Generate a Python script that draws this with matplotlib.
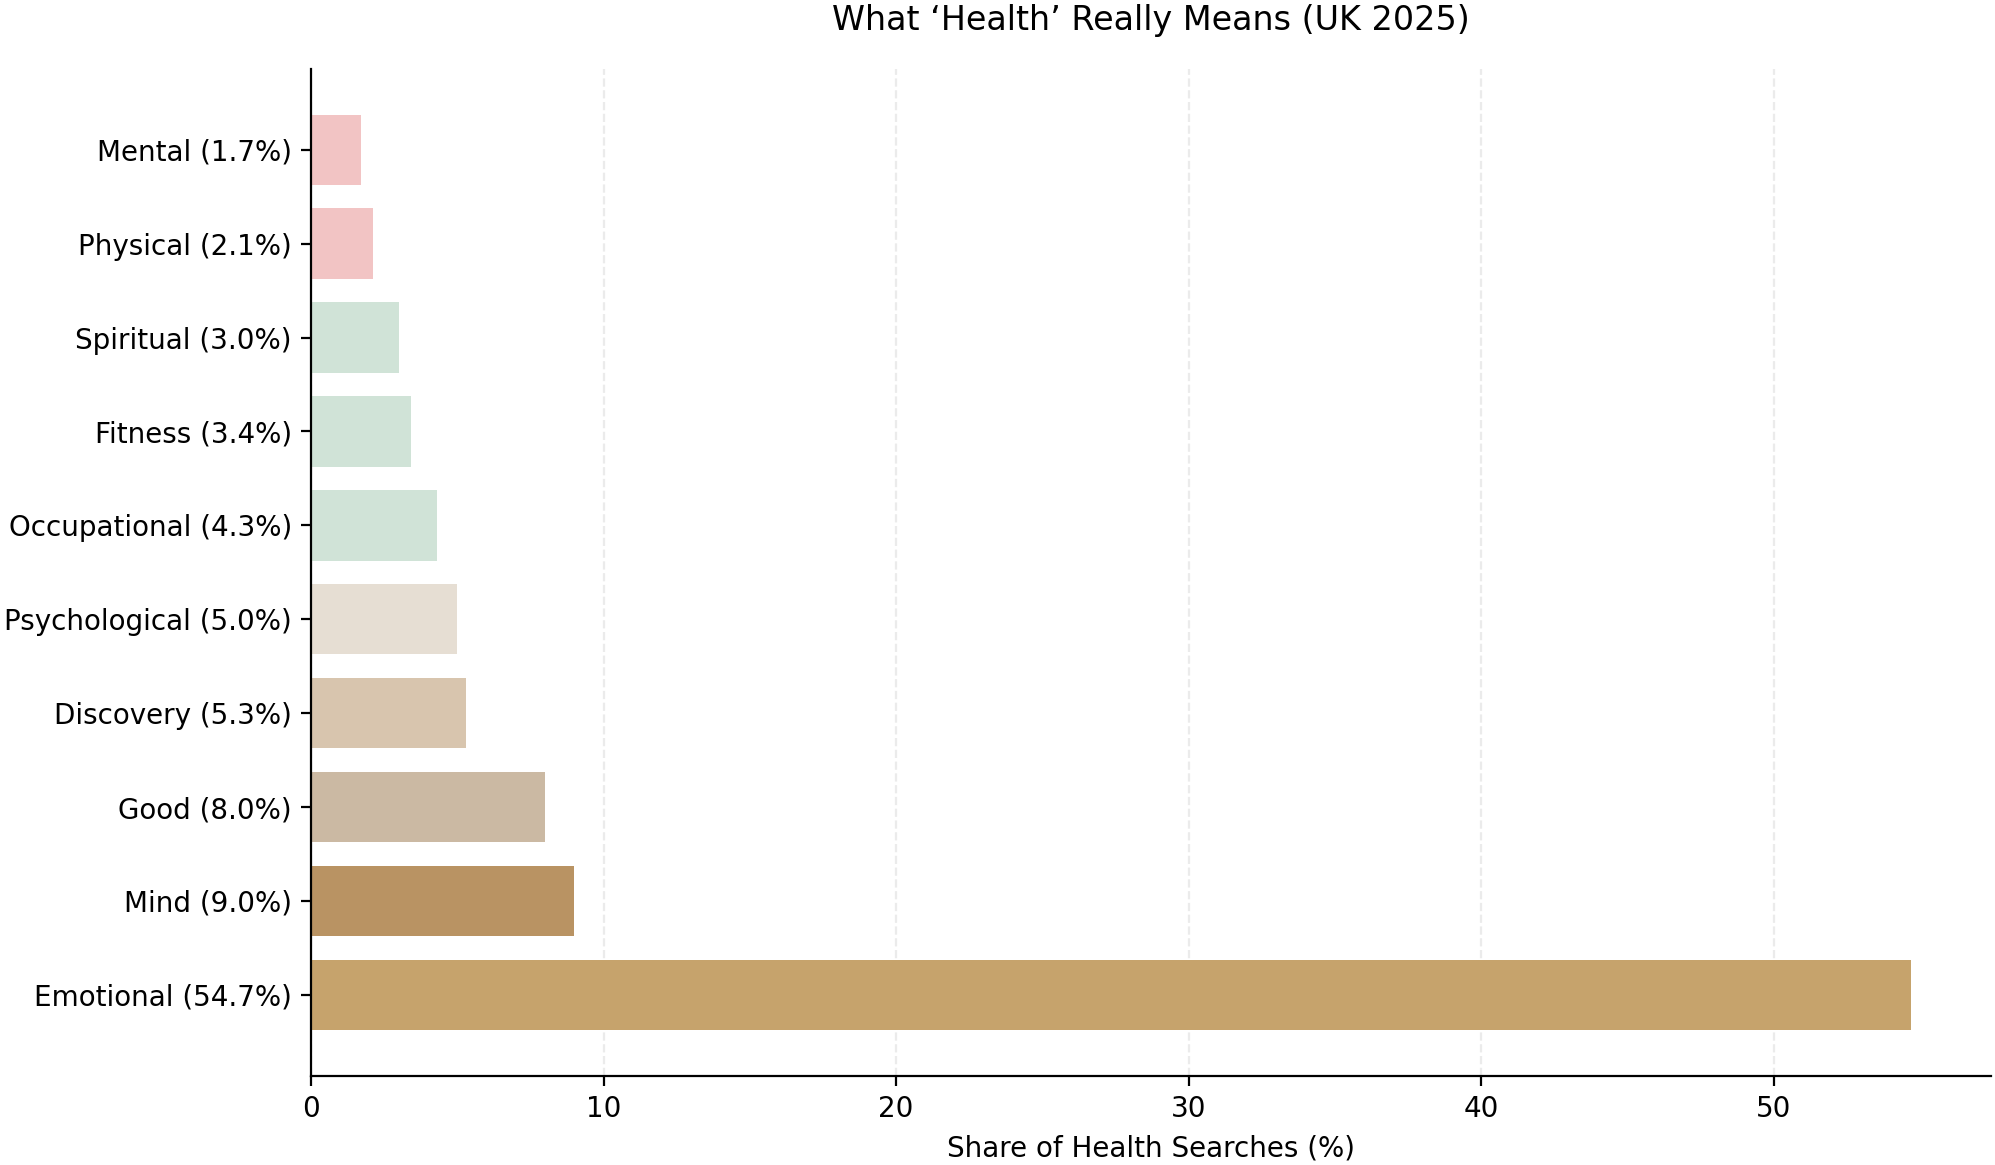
import matplotlib
matplotlib.use("Agg")
import matplotlib.pyplot as plt

# categories from bottom to top
categories = ["Emotional", "Mind", "Good", "Discovery", "Psychological",
              "Occupational", "Fitness", "Spiritual", "Physical", "Mental"]
shares = [54.7, 9.0, 8.0, 5.3, 5.0, 4.3, 3.4, 3.0, 2.1, 1.7]
colors = ["#C6A36C", "#B99363", "#CBB9A3", "#D8C5AE", "#E6DED3",
          "#D0E3D7", "#D0E3D7", "#D0E3D7", "#F2C4C4", "#F2C4C4"]

labels = [f"{c} ({s:.1f}%)" for c, s in zip(categories, shares)]

fig, ax = plt.subplots(figsize=(9.975, 5.825), dpi=200)
fig.subplots_adjust(left=0.156, right=0.998, top=0.941, bottom=0.0765)

ax.barh(labels, shares, color=colors, height=0.75)
ax.set_xlabel("Share of Health Searches (%)")
ax.set_title("What \u2018Health\u2019 Really Means (UK 2025)", fontsize=12, pad=14)
ax.grid(axis="x", linestyle="--", alpha=0.25)
ax.set_axisbelow(True)
ax.spines["top"].set_visible(False)
ax.spines["right"].set_visible(False)

fig.savefig("out.png", dpi=200)
